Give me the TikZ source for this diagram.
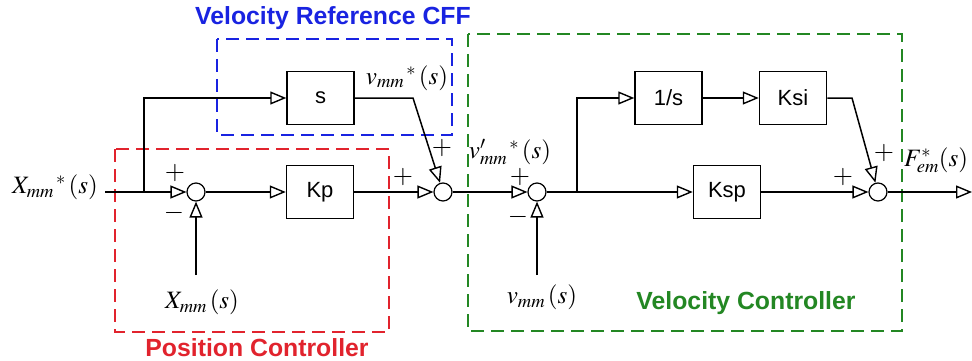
\documentclass[tikz,border=0pt]{standalone}
\usepackage{mathptmx}
\usepackage{fontspec}
\setmainfont{Liberation Sans}
\usetikzlibrary{arrows.meta}
\definecolor{cffblue}{RGB}{25,35,225}
\definecolor{posred}{RGB}{225,35,45}
\definecolor{velgreen}{RGB}{35,135,35}
\tikzset{
  blk/.style={draw, line width=1.5pt, minimum width=67pt, minimum height=53pt, inner sep=0pt, font=\fontsize{22}{24}\selectfont},
  sumc/.style={draw, circle, minimum size=18pt, inner sep=0pt, line width=1.2pt},
  ln/.style={line width=1.5pt},
  sig/.style={line width=1.5pt, -{Triangle[open, length=16pt, width=13pt, line width=1.4pt]}},
  grp/.style={line width=1.6pt, dash pattern=on 13pt off 7pt},
  ttl/.style={font=\fontsize{24.8}{26}\selectfont\bfseries},
  mlab/.style={font=\fontsize{25}{27}\selectfont, inner sep=0pt},
  sgn/.style={font=\fontsize{26}{28}\selectfont, inner sep=0pt}
}
\begin{document}
\begin{tikzpicture}[x=1pt,y=-1pt]
\useasboundingbox (0,0) rectangle (972,361);
% group frames
\draw[grp, cffblue] (217,39) rectangle (452,135);
\draw[grp, posred] (115,149) rectangle (389,332);
\draw[grp, velgreen] (468,34) rectangle (902,331);
\node[ttl, text=cffblue] (tcff) at (333,18) {Velocity Reference CFF};
\node[ttl, text=posred] (tpos) at (257,348) {Position Controller};
\node[ttl, text=velgreen] (tvel) at (746,303) {Velocity Controller};
% blocks
\node[blk] (s) at (320.5,98) {s};
\node[blk] (kp) at (320,192) {Kp};
\node[blk] (inv) at (668.5,98) {1/s};
\node[blk] (ksi) at (793,98) {Ksi};
\node[blk] (ksp) at (727,192) {Ksp};
% sums
\node[sumc] (s1) at (196,192) {};
\node[sumc] (s2) at (443,192) {};
\node[sumc] (s3) at (537,192) {};
\node[sumc] (s4) at (878,192) {};
% coordinates
\coordinate (in) at (105,192);
\coordinate (b1) at (144,192);
\coordinate (c1) at (413,98);
\coordinate (b2) at (577,192);
\coordinate (c2) at (852,98);
\coordinate (fb1) at (196,275);
\coordinate (fb2) at (537,275);
\coordinate (out) at (972,192);
% connectors
\draw[ln] (in) -- (b1);
\draw[sig] (b1) -- (s1);
\draw[sig] (b1) |- (s.west);
\draw[sig] (s1) -- (kp);
\draw[sig] (fb1) -- (s1);
\draw[sig] (kp) -- (s2);
\draw[sig] (s.east) -- (c1) -- (s2);
\draw[sig] (s2) -- (s3);
\draw[sig] (fb2) -- (s3);
\draw[ln] (s3) -- (b2);
\draw[sig] (b2) -- (ksp);
\draw[sig] (b2) |- (inv.west);
\draw[sig] (inv) -- (ksi);
\draw[sig] (ksi.east) -- (c2) -- (s4);
\draw[sig] (ksp) -- (s4);
\draw[sig] (s4) -- (out);
% signs
\node[sgn] (p1) at (175,173) {$+$};
\node[sgn] (m1) at (174,213) {$-$};
\node[sgn] (p2) at (403,177) {$+$};
\node[sgn] (p3) at (442,148) {$+$};
\node[sgn] (p4) at (520,177) {$+$};
\node[sgn] (m2) at (518,217) {$-$};
\node[sgn] (p5) at (843,177) {$+$};
\node[sgn] (p6) at (884,153) {$+$};
% signal labels
\node[mlab] (lx) at (55,187) {$X_{mm}{}^{\,*}\,(s)$};
\node[mlab] (lv) at (407,78) {$v_{mm}{}^{\,*}\,(s)$};
\node[mlab] (lxm) at (202,302) {$X_{mm}\,(s)$};
\node[mlab] (lvp) at (510,152) {$v'_{mm}{}^{\,*}\,(s)$};
\node[mlab] (lvm) at (542,297) {$v_{mm}\,(s)$};
\node[mlab] (lf) at (936,160) {$F_{em}^{*}(s)$};
\end{tikzpicture}
\end{document}
